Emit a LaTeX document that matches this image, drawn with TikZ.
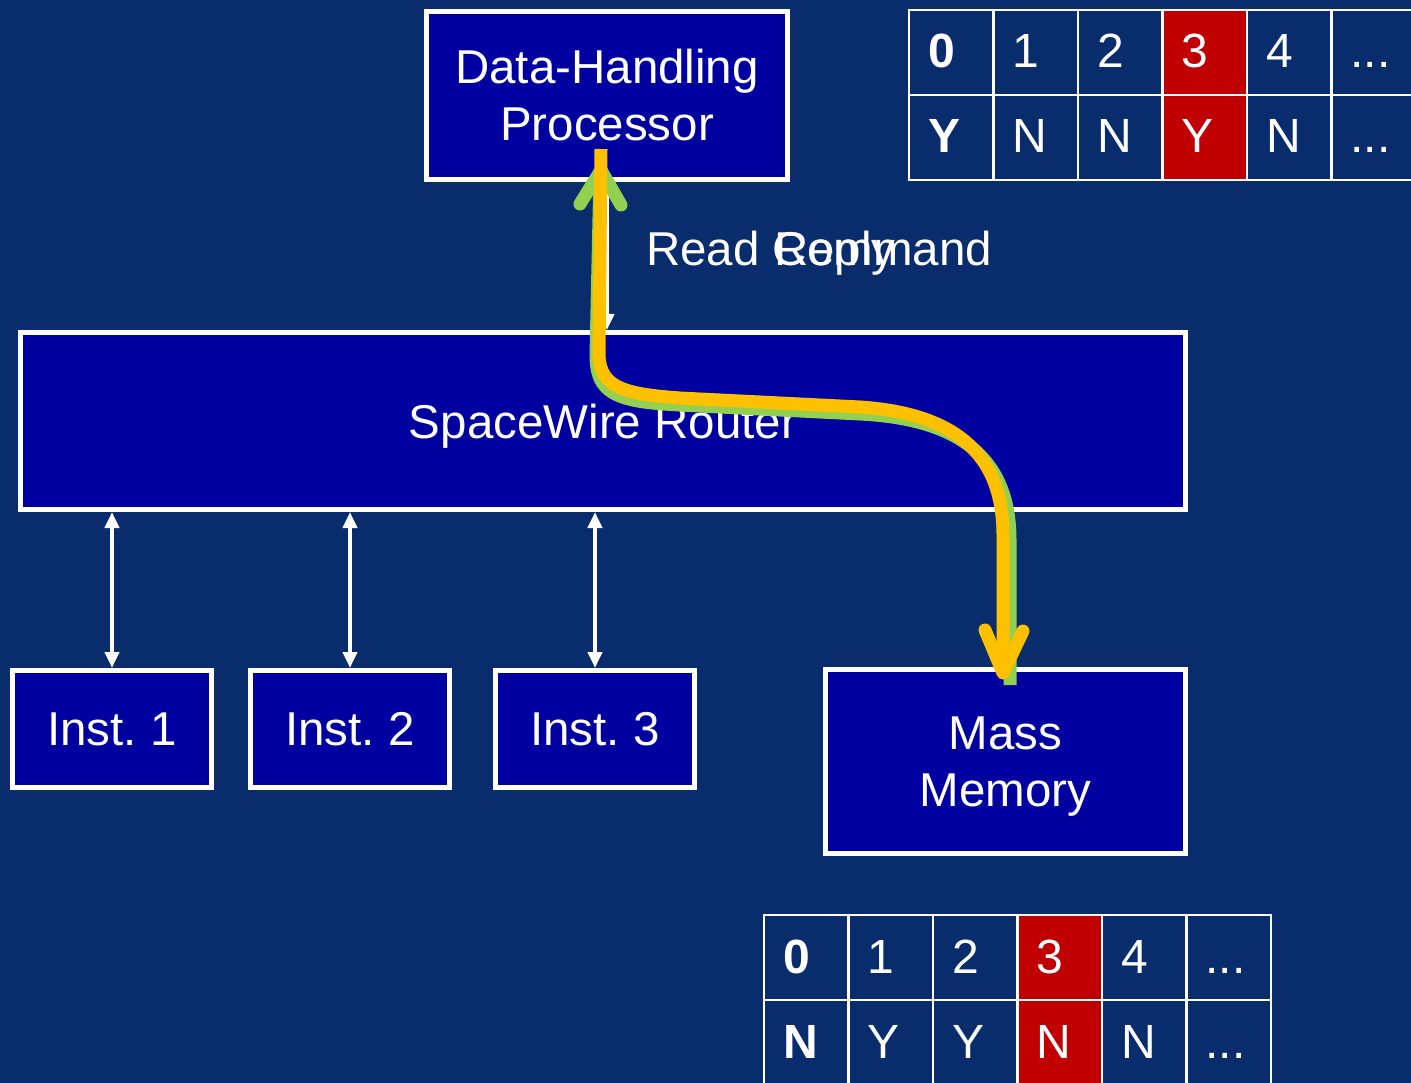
\documentclass[tikz,border=0pt]{standalone}
\usepackage{fontspec}
\setmainfont{Liberation Sans}
\usetikzlibrary{arrows.meta,calc}
\definecolor{bgnavy}{RGB}{8,44,108}
\definecolor{boxblue}{RGB}{0,0,160}
\definecolor{cellred}{RGB}{192,0,0}
\definecolor{pathgreen}{RGB}{146,208,80}
\definecolor{pathyellow}{RGB}{255,192,0}
\begin{document}
\frenchspacing
\begin{tikzpicture}[x=1pt,y=-1pt,
  box/.style={draw=white, line width=5pt, fill=boxblue, text=white, inner sep=0pt,
    align=center, font=\fontsize{47.5}{57}\selectfont},
  cellbox/.style={draw=white, line width=2.5pt, fill=bgnavy, text=white,
    minimum height=85pt, inner xsep=19pt, inner ysep=0pt, text width=46.5pt,
    align=left, text height=31pt, text depth=0pt, font=\fontsize{48}{48}\selectfont},
  redcell/.style={cellbox, fill=cellred},
  boldcell/.style={cellbox, font=\fontsize{48}{48}\selectfont\bfseries},
  lbl/.style={text=white, inner sep=0pt, font=\fontsize{47.5}{57}\selectfont},
  dbl/.style={draw=white, line width=4.7pt,
    {Triangle[length=16pt,width=14pt]}-{Triangle[length=16pt,width=14pt]}},
  greenline/.style={draw=pathgreen, line width=13pt, line cap=butt, line join=round},
  yellowline/.style={draw=pathyellow, line width=13pt, line cap=butt, line join=round},
  greenarm/.style={draw=pathgreen, line width=13pt, line cap=round, line join=round},
  yellowarm/.style={draw=pathyellow, line width=13pt, line cap=round, line join=round}
]
\useasboundingbox (0,0) rectangle (1411,1083);
\fill[bgnavy] (0,0) rectangle (1411,1083);

% main boxes
\node[box, minimum width=361pt, minimum height=168pt] (dhp) at (607,95.5) {Data-Handling\\Processor};
\node[box, minimum width=1165pt, minimum height=177pt, text depth=0pt] (router) at (603,421) {SpaceWire Router};
\node[box, minimum width=199pt, minimum height=117pt] (inst1) at (112,729) {Inst. 1};
\node[box, minimum width=199pt, minimum height=117pt] (inst2) at (350,729) {Inst. 2};
\node[box, minimum width=199pt, minimum height=117pt] (inst3) at (595,729) {Inst. 3};
\node[box, minimum width=360pt, minimum height=184pt, text depth=0pt] (mm) at (1005.5,761.5) {Mass\\Memory};

% top table
\node[boldcell] (t00) at (951.25,52.5) {0};
\node[cellbox] (t01) at (1035.75,52.5) {1};
\node[cellbox] (t02) at (1120.25,52.5) {2};
\node[redcell] (t03) at (1204.75,52.5) {3};
\node[cellbox] (t04) at (1289.25,52.5) {4};
\node[cellbox] (t05) at (1373.75,52.5) {...};
\node[boldcell] (t10) at (951.25,137.5) {Y};
\node[cellbox] (t11) at (1035.75,137.5) {N};
\node[cellbox] (t12) at (1120.25,137.5) {N};
\node[redcell] (t13) at (1204.75,137.5) {Y};
\node[cellbox] (t14) at (1289.25,137.5) {N};
\node[cellbox] (t15) at (1373.75,137.5) {...};

% bottom table
\node[boldcell] (b00) at (806.25,957.5) {0};
\node[cellbox] (b01) at (890.75,957.5) {1};
\node[cellbox] (b02) at (975.25,957.5) {2};
\node[redcell] (b03) at (1059.75,957.5) {3};
\node[cellbox] (b04) at (1144.25,957.5) {4};
\node[cellbox] (b05) at (1228.75,957.5) {...};
\node[boldcell] (b10) at (806.25,1042.5) {N};
\node[cellbox] (b11) at (890.75,1042.5) {Y};
\node[cellbox] (b12) at (975.25,1042.5) {Y};
\node[redcell] (b13) at (1059.75,1042.5) {N};
\node[cellbox] (b14) at (1144.25,1042.5) {N};
\node[cellbox] (b15) at (1228.75,1042.5) {...};

% white double arrows
\draw[dbl] (inst1.north) -- (inst1.north |- router.south);
\draw[dbl] (inst2.north) -- (inst2.north |- router.south);
\draw[dbl] (inst3.north) -- (inst3.north |- router.south);
\draw[dbl] (dhp.south) -- (dhp.south |- router.north);
\draw[dbl] (mm.north) -- (mm.north |- router.south);

% labels
\node[lbl, anchor=base west] (readcmd) at (646,266) {Read Command};
\node[lbl, anchor=base west] (reply) at (774,266) {Reply};

% green path (reply: mass memory -> DHP)
\coordinate (gstart) at (1010,685);
\coordinate (gtip) at (601,170);
\draw[greenline] (gstart) -- (1010,540) .. controls (1010,458) and (960,419) .. (860,414)
  -- (680,405) .. controls (615,402) and (596,393) .. (596,355) -- (600,172);
\draw[greenarm] (580,204) -- (gtip) -- (621,205);

% yellow path (command: DHP -> mass memory)
\coordinate (ystart) at (601,149);
\coordinate (ytip) at (1003,673);
\draw[yellowline] (ystart) -- (599,355) .. controls (600,388) and (625,394) .. (680,398)
  -- (860,407) .. controls (950,413) and (1003,450) .. (1003,535) -- (1003,668);
\draw[yellowarm] (985,630) -- (ytip) -- (1023,631);
\end{tikzpicture}
\end{document}
